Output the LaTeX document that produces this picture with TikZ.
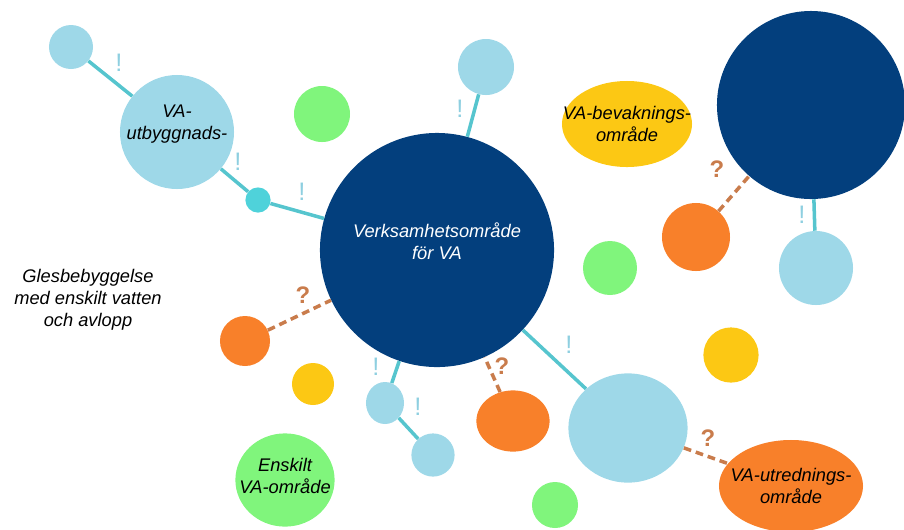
\documentclass[tikz,border=0pt]{standalone}
\usepackage{fontspec}
\setmainfont{Liberation Sans}
\usetikzlibrary{shapes.geometric}

\definecolor{navy}{HTML}{033F7D}
\definecolor{skyblue}{HTML}{9ED8E8}
\definecolor{tealdot}{HTML}{4FD2DA}
\definecolor{tealline}{HTML}{56C5CE}
\definecolor{lightgreen}{HTML}{80F57C}
\definecolor{warmorange}{HTML}{F8802A}
\definecolor{sunyellow}{HTML}{FCC814}
\definecolor{dashbrown}{HTML}{C97C4C}
\definecolor{bangblue}{HTML}{8ECFE0}

\tikzset{
  blob/.style={circle, inner sep=0pt},
  oval/.style={ellipse, inner sep=0pt},
  txt/.style={align=center, font=\itshape\fontsize{13}{15.5}\selectfont},
  link/.style={tealline, line width=2.5pt},
  maybe/.style={dashbrown, line width=2.5pt, dash pattern=on 5.5pt off 3.5pt},
  bang/.style={text=bangblue, font=\fontsize{18}{18}\selectfont},
  ask/.style={text=dashbrown, font=\bfseries\fontsize{17}{17}\selectfont},
}

\begin{document}
\begin{tikzpicture}[x=0.025cm, y=-0.025cm]
    \useasboundingbox (0,0) rectangle (904,529);

    % omraden
    \node (1) at (71,47) [blob, fill=skyblue, minimum size=1.1cm] {};
    \node (2) at (177,132) [blob, fill=skyblue, minimum size=2.85cm,
        label={[txt, yshift=0.2cm]center:VA-\\utbyggnads-}] {};
    \node (3) at (258,200) [blob, fill=tealdot, minimum size=0.63cm] {};
    \node (4) at (322,114) [blob, fill=lightgreen, minimum size=1.4cm] {};
    \node (5) at (437,250) [blob, fill=navy, minimum size=5.85cm,
        label={[txt, text=white, yshift=0.22cm]center:Verksamhetsområde\\för VA}] {};
    \node (6) at (486,67) [blob, fill=skyblue, minimum size=1.4cm] {};
    \node (7) at (627,124) [oval, fill=sunyellow, minimum width=3.25cm, minimum height=2.15cm,
        label={[txt]center:VA-bevaknings-\\område}] {};
    \node (8) at (811,105) [blob, fill=navy, minimum size=4.7cm] {};
    \node (9) at (696,237) [blob, fill=warmorange, minimum size=1.7cm] {};
    \node (10) at (816,268) [blob, fill=skyblue, minimum size=1.85cm] {};
    \node (11) at (610,268) [blob, fill=lightgreen, minimum size=1.35cm] {};
    \node (12) at (245,341) [blob, fill=warmorange, minimum size=1.25cm] {};
    \node (13) at (313,384) [blob, fill=sunyellow, minimum size=1.05cm] {};
    \node (14) at (385,403) [oval, fill=skyblue, minimum width=0.95cm, minimum height=1.05cm] {};
    \node (15) at (433,455) [blob, fill=skyblue, minimum size=1.08cm] {};
    \node (16) at (513,421) [oval, fill=warmorange, minimum width=1.83cm, minimum height=1.53cm] {};
    \node (17) at (628,428) [oval, fill=skyblue, minimum width=2.98cm, minimum height=2.73cm] {};
    \node (18) at (731,355) [blob, fill=sunyellow, minimum size=1.38cm] {};
    \node (19) at (791,486) [oval, fill=warmorange, minimum width=3.6cm, minimum height=2.3cm,
        label={[txt]center:VA-utrednings-\\område}] {};
    \node (20) at (555,505) [blob, fill=lightgreen, minimum size=1.15cm] {};
    \node (21) at (285,480) [oval, fill=lightgreen, minimum width=2.48cm, minimum height=2.33cm,
        label={[txt, yshift=0.1cm]center:Enskilt\\VA-område}] {};
    \node (22) at (88,300) [txt] {Glesbebyggelse\\med enskilt vatten\\och avlopp};

    % kopplingar
    \draw[link] (1) to (2);
    \draw[link] (2) to (3);
    \draw[link] (3) to (5);
    \draw[link] (6) to (5);
    \draw[link] (14) to (5);
    \draw[link] (14) to (15);
    \draw[link] (17) to (5);
    \draw[link] (10) to (8);
    \draw[maybe] (12) to (5);
    \draw[maybe] (16) to (5);
    \draw[maybe] (9) to (8);
    \draw[maybe] (17) to (19);

    % tecken
    \node (b1) at (119,63) [bang] {!};
    \node (b2) at (238,162) [bang] {!};
    \node (b3) at (302,192) [bang] {!};
    \node (b4) at (460,109) [bang] {!};
    \node (b5) at (802,215) [bang] {!};
    \node (b6) at (376,367) [bang] {!};
    \node (b7) at (418,407) [bang] {!};
    \node (b8) at (569,345) [bang] {!};
    \node (q1) at (717,169) [ask] {?};
    \node (q2) at (303,295) [ask] {?};
    \node (q3) at (502,366) [ask] {?};
    \node (q4) at (708,438) [ask] {?};
\end{tikzpicture}
\end{document}
